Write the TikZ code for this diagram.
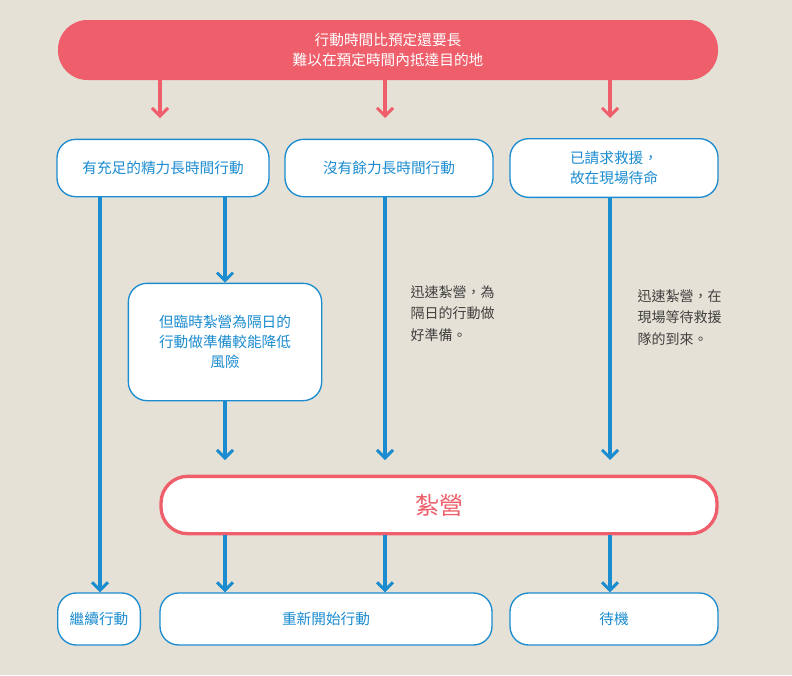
\documentclass[tikz,border=0pt]{standalone}
\usepackage{fontspec}
\setmainfont{Noto Sans CJK TC}
\usetikzlibrary{arrows.meta}
\definecolor{bg}{HTML}{E6E1D6}
\definecolor{rd}{HTML}{EE5F6B}
\definecolor{bl}{HTML}{1B8CD0}
\begin{document}
\begin{tikzpicture}[x=0.75pt,y=-0.75pt,
 box/.style={draw=bl,line width=1pt,fill=white,rounded corners=14pt,align=center,text=bl,font=\fontsize{11}{15}\selectfont},
 barr/.style={draw=bl,line width=3pt,-{Straight Barb[length=6pt,width=12pt,line width=2.2pt]}},
 rarr/.style={draw=rd,line width=3pt,-{Straight Barb[length=6pt,width=12pt,line width=2.2pt]}},
 note/.style={align=left,text=black!75,font=\fontsize{10.5}{16}\selectfont,anchor=north west}]
\fill[bg] (0,0) rectangle (792,675);
\useasboundingbox (0,0) rectangle (792,675);
\node[fill=rd,rounded corners=22pt,minimum width=495pt,minimum height=45pt,text=white,align=center,font=\fontsize{11}{15}\selectfont] (top) at (388,50) {行動時間比預定還要長\\難以在預定時間內抵達目的地};
\node[box,minimum width=159pt,minimum height=43pt] (a) at (163,168) {有充足的精力長時間行動};
\node[box,minimum width=156pt,minimum height=43pt] (b) at (389,168) {沒有餘力長時間行動};
\node[box,minimum width=156pt,minimum height=44pt] (c) at (614,168) {已請求救援，\\故在現場待命};
\node[box,minimum width=145pt,minimum height=88pt] (d) at (225,342) {但臨時紮營為隔日的\\行動做準備較能降低\\風險};
\node[draw=rd,line width=2.5pt,fill=white,rounded corners=20pt,minimum width=417pt,minimum height=43pt,text=rd,font=\fontsize{18}{20}\selectfont] (e) at (439,505) {紮營};
\node[box,minimum width=62pt,minimum height=39pt] (f) at (99,619) {繼續行動};
\node[box,minimum width=249pt,minimum height=39pt] (g) at (326,619) {重新開始行動};
\node[box,minimum width=156pt,minimum height=39pt] (h) at (614,619) {待機};
\node[note] (n1) at (406,281) {迅速紮營，為\\隔日的行動做\\好準備。};
\node[note] (n2) at (633,285) {迅速紮營，在\\現場等待救援\\隊的到來。};
\foreach \x in {160,385,610} \draw[rarr] (top.south -| \x,0) -- (\x,118);
\draw[barr] (a.south -| 100,0) -- (f.north -| 100,0);
\draw[barr] (a.south -| 225,0) -- (d.north -| 225,0);
\draw[barr] (d.south) -- (d.south |- 460,460);
\draw[barr] (b.south -| 385,0) -- (385,460);
\draw[barr] (c.south -| 610,0) -- (610,460);
\draw[barr] (e.south -| 225,0) -- (g.north -| 225,0);
\draw[barr] (e.south -| 385,0) -- (g.north -| 385,0);
\draw[barr] (e.south -| 610,0) -- (h.north -| 610,0);
\end{tikzpicture}
\end{document}
